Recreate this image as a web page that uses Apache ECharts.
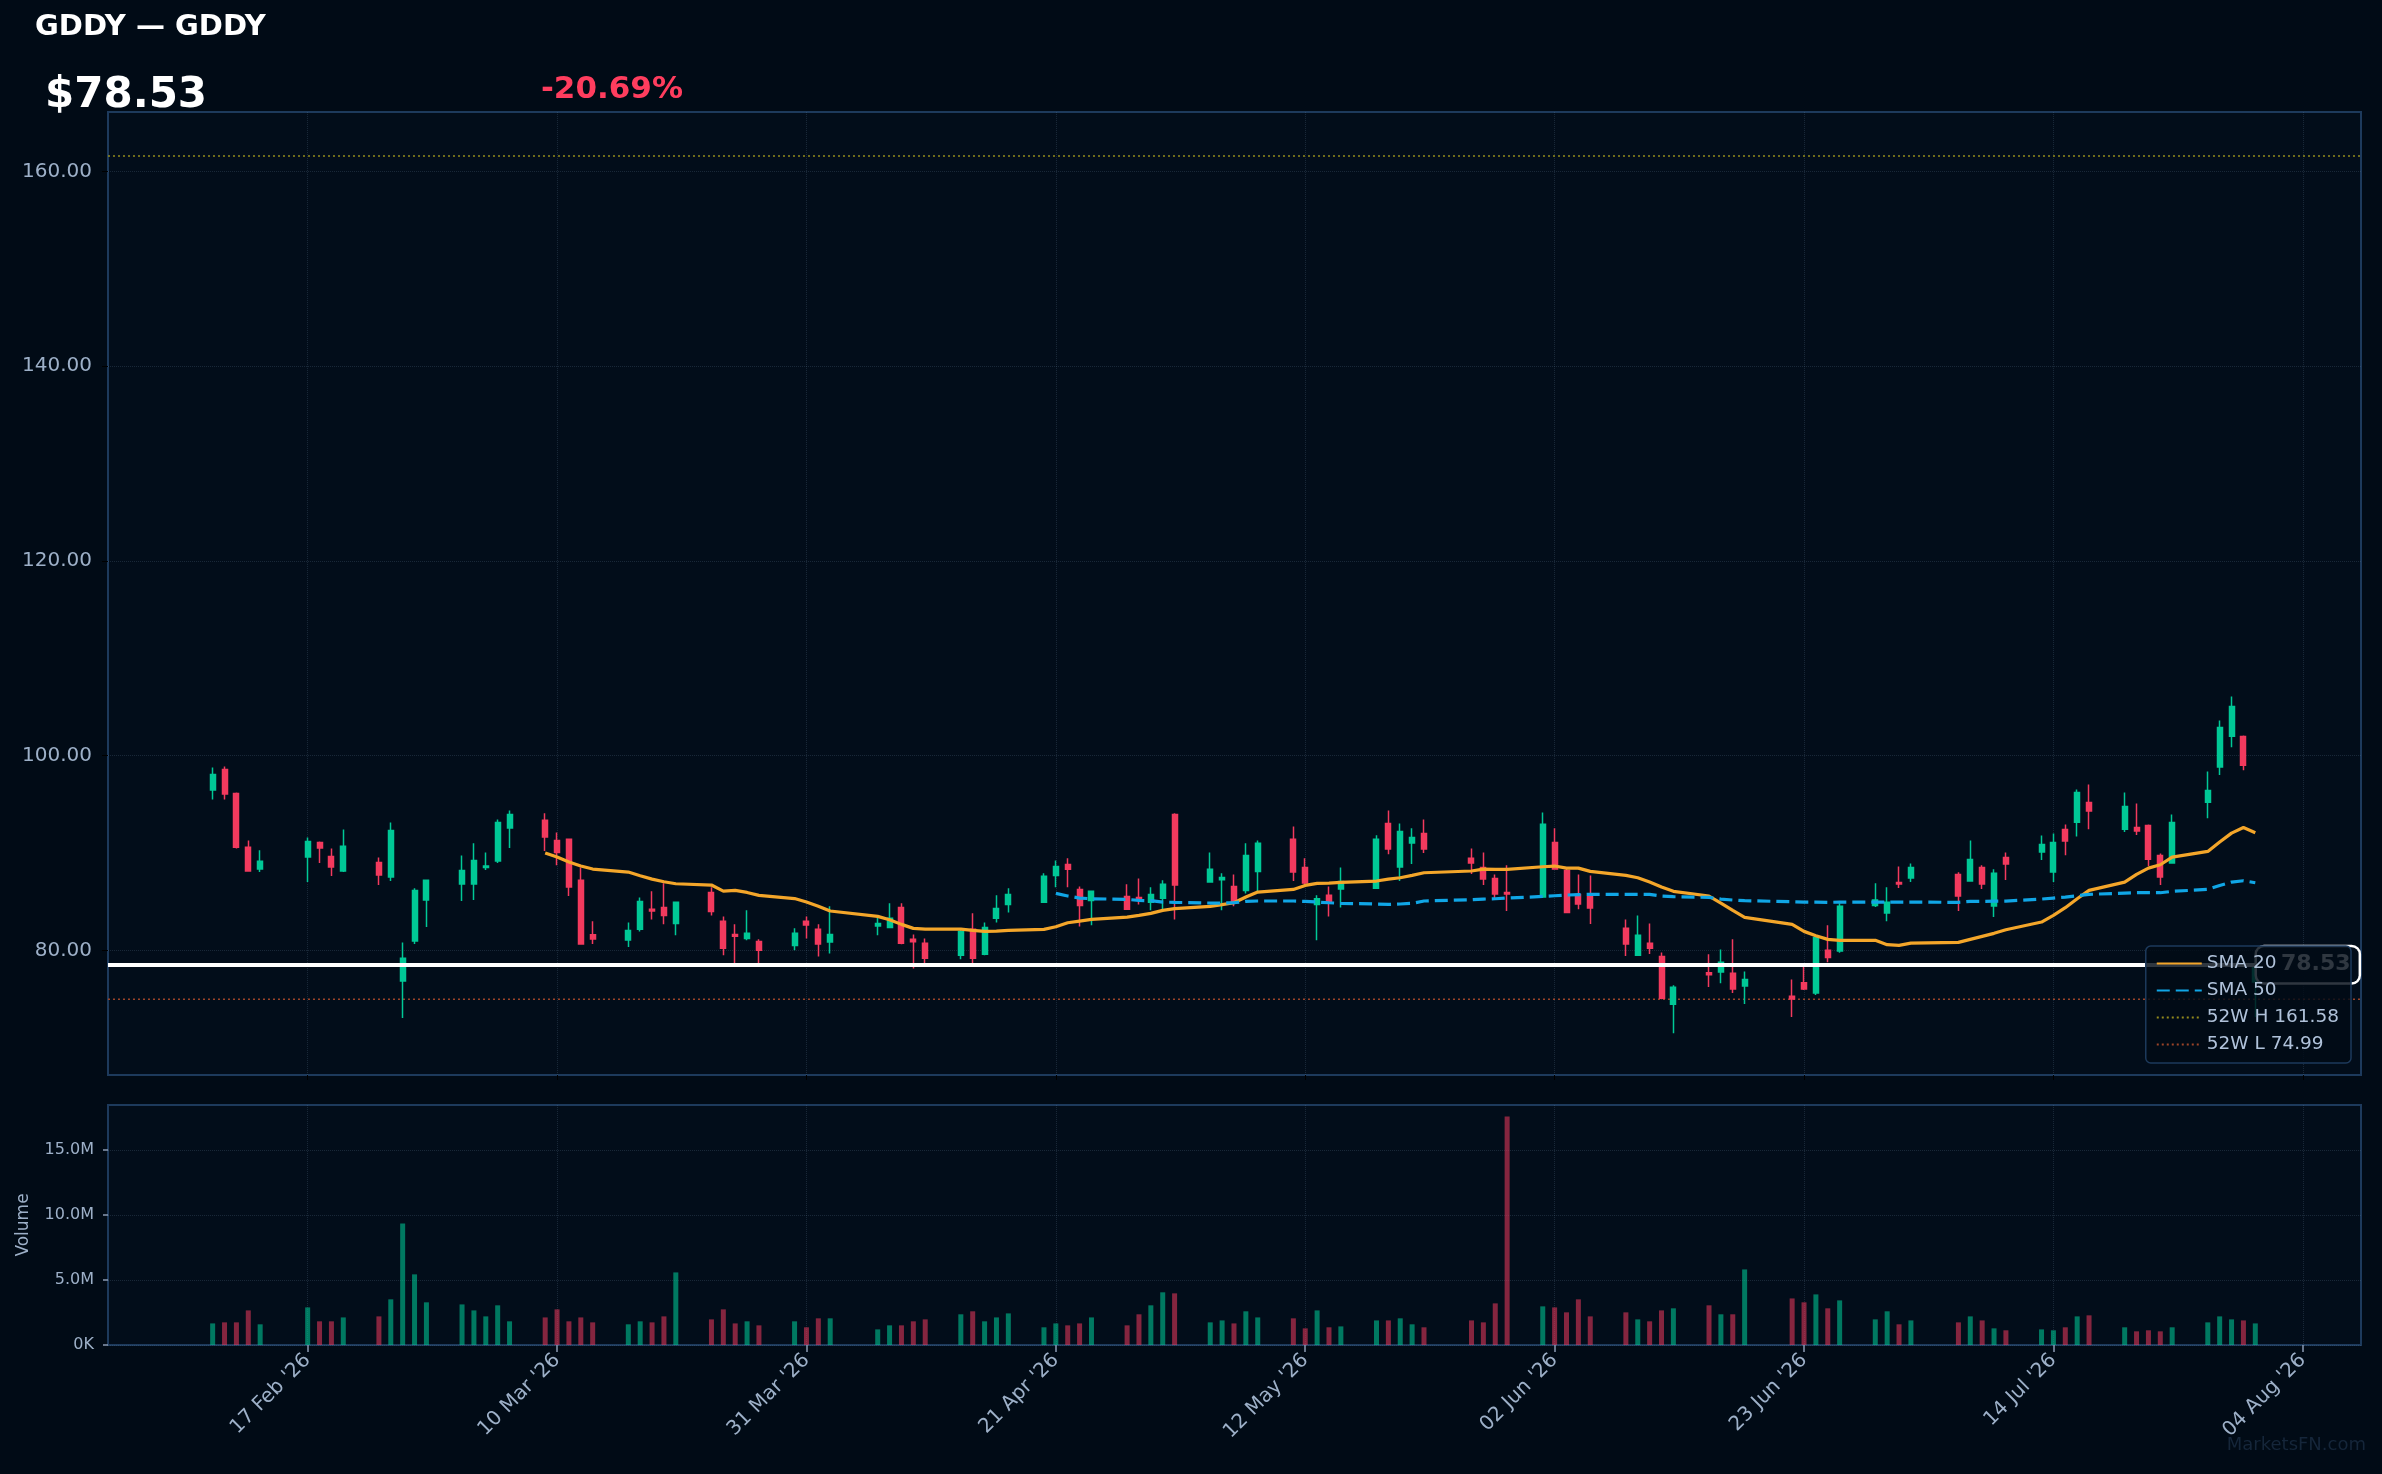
<!DOCTYPE html>
<html><head><meta charset="utf-8">
<script src="https://cdn.jsdelivr.net/npm/echarts@6/dist/echarts.min.js"></script>
<style>html,body{margin:0;padding:0;background:#010b16;}#chart{width:2382px;height:1474px;}</style>
</head><body><div id="chart"></div>
<script>
const ticker = 'GDDY';
const lastPrice = 78.53;
const changePct = -20.69;
const high52 = 161.58;
const low52 = 74.99;

const dates = [
'2026-02-09','2026-02-10','2026-02-11','2026-02-12','2026-02-13',
'2026-02-17','2026-02-18','2026-02-19','2026-02-20',
'2026-02-23','2026-02-24','2026-02-25','2026-02-26','2026-02-27',
'2026-03-02','2026-03-03','2026-03-04','2026-03-05','2026-03-06',
'2026-03-09','2026-03-10','2026-03-11','2026-03-12','2026-03-13',
'2026-03-16','2026-03-17','2026-03-18','2026-03-19','2026-03-20',
'2026-03-23','2026-03-24','2026-03-25','2026-03-26','2026-03-27',
'2026-03-30','2026-03-31','2026-04-01','2026-04-02',
'2026-04-06','2026-04-07','2026-04-08','2026-04-09','2026-04-10',
'2026-04-13','2026-04-14','2026-04-15','2026-04-16','2026-04-17',
'2026-04-20','2026-04-21','2026-04-22','2026-04-23','2026-04-24',
'2026-04-27','2026-04-28','2026-04-29','2026-04-30','2026-05-01',
'2026-05-04','2026-05-05','2026-05-06','2026-05-07','2026-05-08',
'2026-05-11','2026-05-12','2026-05-13','2026-05-14','2026-05-15',
'2026-05-18','2026-05-19','2026-05-20','2026-05-21','2026-05-22',
'2026-05-26','2026-05-27','2026-05-28','2026-05-29',
'2026-06-01','2026-06-02','2026-06-03','2026-06-04','2026-06-05',
'2026-06-08','2026-06-09','2026-06-10','2026-06-11','2026-06-12',
'2026-06-15','2026-06-16','2026-06-17','2026-06-18',
'2026-06-22','2026-06-23','2026-06-24','2026-06-25','2026-06-26',
'2026-06-29','2026-06-30','2026-07-01','2026-07-02',
'2026-07-06','2026-07-07','2026-07-08','2026-07-09','2026-07-10',
'2026-07-13','2026-07-14','2026-07-15','2026-07-16','2026-07-17',
'2026-07-20','2026-07-21','2026-07-22','2026-07-23','2026-07-24',
'2026-07-27','2026-07-28','2026-07-29','2026-07-30','2026-07-31'];

const openP = [
96.46,98.58,96.12,90.58,88.35,
89.58,91.09,89.65,88.15,
89.03,87.53,76.85,80.96,85.17,
86.81,86.81,88.52,89.17,92.56,
93.35,91.29,91.40,87.19,81.61,
81.06,82.16,84.21,84.41,82.77,
85.95,82.98,81.64,81.23,80.92,
80.51,82.98,82.16,80.86,
82.50,82.36,84.41,81.13,80.72,
79.49,82.16,79.59,83.29,84.72,
84.93,87.70,88.83,86.26,85.13,
85.54,85.44,84.93,85.34,93.96,
87.02,87.26,86.57,86.16,88.11,
91.40,88.52,84.72,85.65,86.30,
86.37,93.04,88.56,91.02,92.01,
89.45,88.52,87.39,85.95,
85.48,91.09,88.21,85.75,85.54,
82.26,79.49,80.72,79.38,74.46,
77.71,77.78,77.64,76.34,
75.28,76.68,75.62,80.00,79.93,
84.62,83.83,86.98,87.43,
87.80,87.12,88.52,84.55,89.54,
90.09,88.04,92.42,93.17,95.19,
92.45,92.62,92.83,89.75,88.96,
95.22,98.82,102.00,101.96,76.75];

const highP = [
98.79,98.89,96.22,91.29,90.27,
91.60,91.19,90.47,92.42,
89.55,93.14,80.82,86.37,87.29,
89.75,90.99,90.06,93.45,94.37,
94.07,92.11,91.50,88.52,82.98,
82.87,85.44,86.06,86.88,85.03,
86.47,83.49,82.67,84.11,81.13,
82.26,83.49,82.67,84.52,
83.39,84.83,84.83,81.64,81.23,
82.16,83.80,82.87,85.65,86.37,
87.91,89.24,89.45,86.57,86.16,
86.78,87.39,86.47,87.19,94.07,
90.06,87.91,87.80,90.99,91.29,
92.73,89.45,85.65,86.57,88.52,
91.81,94.37,93.04,92.53,93.45,
90.47,90.06,87.80,88.73,
94.17,92.53,88.52,87.80,87.70,
83.18,83.59,82.77,79.79,76.41,
79.59,80.10,81.13,77.84,
77.02,78.36,81.54,82.57,84.83,
86.88,86.47,88.62,88.93,
88.01,91.29,88.73,88.32,90.06,
91.80,92.01,92.93,96.52,97.04,
96.22,95.09,92.93,89.96,93.96,
98.37,103.61,106.07,102.07,79.10];

const lowP = [
95.50,95.50,90.47,88.15,88.04,
87.02,88.97,87.63,88.04,
86.71,87.12,73.05,80.65,82.40,
85.07,85.17,88.25,88.97,90.51,
90.20,88.73,85.58,80.65,80.65,
80.34,81.95,83.18,82.67,81.54,
83.59,79.49,78.46,81.03,78.63,
80.00,81.23,79.38,79.69,
81.54,82.30,80.62,78.15,78.29,
79.08,78.36,79.49,82.87,83.90,
84.93,86.47,86.47,82.46,82.57,
84.21,84.72,84.11,84.21,83.18,
87.02,84.11,84.52,85.85,85.95,
87.12,86.50,81.03,83.49,84.41,
86.37,89.86,87.12,88.86,89.99,
87.84,86.71,85.27,84.04,
85.37,88.35,83.80,84.21,82.70,
79.42,79.42,79.62,74.97,71.48,
76.24,76.61,75.62,74.49,
73.16,75.93,75.41,78.77,79.76,
84.45,82.98,86.40,87.02,
84.04,87.12,86.30,83.42,87.22,
89.27,87.01,89.78,91.70,92.45,
92.15,91.84,88.66,86.71,88.96,
93.58,98.00,100.87,98.51,73.16];

const closeP = [
98.07,96.05,90.58,88.15,89.14,
91.19,90.51,88.56,90.68,
87.73,92.32,79.18,86.16,87.19,
88.21,89.24,88.66,93.14,93.96,
91.64,90.06,86.50,80.65,81.16,
82.05,85.03,84.04,83.59,84.93,
84.00,80.21,81.44,81.75,80.00,
81.75,82.60,80.65,81.64,
82.77,83.29,80.72,80.89,79.18,
81.95,79.18,82.36,84.31,85.75,
87.60,88.62,88.32,84.62,86.06,
84.21,85.27,85.75,86.78,86.71,
88.32,87.49,84.93,89.75,90.99,
88.04,86.91,85.30,84.86,87.08,
91.40,90.40,92.22,91.60,90.40,
88.97,87.32,85.78,85.78,
92.94,88.35,83.90,84.76,84.35,
80.65,81.54,80.21,75.07,76.20,
77.50,78.77,76.03,77.02,
75.00,76.03,81.33,79.28,84.52,
85.17,84.93,86.81,88.52,
85.58,89.34,86.81,87.91,88.86,
90.88,91.08,91.22,96.22,94.30,
94.78,92.25,89.37,87.53,93.14,
96.42,102.89,105.04,99.02,78.53];

const volumeM = [
1.66,1.74,1.74,2.66,1.59,
2.89,1.82,1.82,2.12,
2.20,3.51,9.34,5.43,3.28,
3.12,2.66,2.20,3.05,1.82,
2.12,2.74,1.82,2.12,1.74,
1.59,1.82,1.74,2.20,5.58,
1.97,2.74,1.66,1.82,1.51,
1.82,1.36,2.05,2.05,
1.20,1.51,1.51,1.82,1.97,
2.36,2.59,1.82,2.12,2.43,
1.36,1.66,1.51,1.66,2.12,
1.51,2.36,3.05,4.05,3.97,
1.74,1.89,1.66,2.59,2.12,
2.05,1.28,2.66,1.36,1.43,
1.89,1.89,2.05,1.59,1.36,
1.89,1.74,3.20,17.56,
2.97,2.89,2.51,3.51,2.20,
2.51,1.97,1.82,2.66,2.82,
3.05,2.36,2.36,5.81,
3.58,3.28,3.89,2.82,3.43,
1.97,2.59,1.59,1.89,
1.74,2.20,1.89,1.28,1.13,
1.20,1.13,1.36,2.20,2.28,
1.36,1.05,1.13,1.05,1.36,
1.74,2.20,1.97,1.89,1.66];

const sma20 = [
null,null,null,null,null,
null,null,null,null,
null,null,null,null,null,
null,null,null,null,null,
90.00,89.58,89.07,88.66,88.35,
88.04,87.67,87.32,87.05,86.84,
86.71,86.09,86.16,85.95,85.65,
85.32,84.96,84.52,84.04,
83.49,83.15,82.67,82.26,82.19,
82.19,82.05,81.95,81.98,82.05,
82.16,82.43,82.84,83.01,83.18,
83.42,83.59,83.80,84.11,84.28,
84.52,84.69,84.89,85.48,85.99,
86.26,86.67,86.88,86.91,86.98,
87.12,87.32,87.46,87.70,87.97,
88.15,88.35,88.32,88.32,
88.59,88.66,88.45,88.45,88.11,
87.70,87.46,87.02,86.50,86.06,
85.58,84.86,84.11,83.39,
82.67,81.95,81.51,81.13,81.03,
81.03,80.58,80.51,80.75,
80.82,81.13,81.44,81.75,82.12,
82.91,83.59,84.38,85.30,86.16,
87.01,87.80,88.45,88.79,89.58,
90.16,91.12,92.04,92.62,92.08];

const sma50 = [
null,null,null,null,null,
null,null,null,null,
null,null,null,null,null,
null,null,null,null,null,
null,null,null,null,null,
null,null,null,null,null,
null,null,null,null,null,
null,null,null,null,
null,null,null,null,null,
null,null,null,null,null,
null,85.85,85.58,85.37,85.30,
85.24,85.13,85.10,84.96,84.93,
84.86,84.86,84.89,85.03,85.07,
85.07,85.03,84.96,84.89,84.83,
84.76,84.72,84.76,84.83,85.07,
85.20,85.27,85.30,85.37,
85.54,85.61,85.68,85.72,85.75,
85.75,85.75,85.75,85.58,85.51,
85.44,85.27,85.17,85.10,
85.00,84.96,84.96,84.93,84.96,
84.96,84.96,84.96,84.96,
84.93,85.03,85.03,85.05,85.06,
85.27,85.37,85.47,85.61,85.75,
85.88,85.92,85.92,85.92,86.06,
86.26,86.67,87.01,87.15,86.94];

const priceTicks = [80, 100, 120, 140, 160];
const volumeTicksM = [0, 5, 10, 15];
const dateTicks = ['2026-02-17','2026-03-10','2026-03-31','2026-04-21','2026-05-12','2026-06-02','2026-06-23','2026-07-14','2026-08-04'];
const monthNames = ['Jan','Feb','Mar','Apr','May','Jun','Jul','Aug','Sep','Oct','Nov','Dec'];

function ts(s) { const p = s.split('-').map(Number); return new Date(p[0], p[1] - 1, p[2]).getTime(); }
const xMin = new Date(2026, 0, 31, 4, 30).getTime();
const xMax = new Date(2026, 7, 8, 21, 36).getTime();
function fmtDate(v) {
  const d = new Date(v);
  const dd = String(d.getDate()).padStart(2, '0');
  return dd + ' ' + monthNames[d.getMonth()] + " '" + String(d.getFullYear()).slice(2);
}

const UP = '#00c896', DOWN = '#f23a5e';
const UPV = 'rgba(0,200,150,0.58)', DOWNV = 'rgba(242,58,94,0.55)';
const LBL = '#9db0c8';
const GRIDC = 'rgba(110,135,165,0.22)';
const FONT = 'DejaVu Sans';
const dateTickTs = dateTicks.map(ts);

const candleData = dates.map((d, i) => [ts(d), openP[i], closeP[i], lowP[i], highP[i]]);
const sma20Data = dates.map((d, i) => [ts(d), sma20[i]]).filter(p => p[1] != null);
const sma50Data = dates.map((d, i) => [ts(d), sma50[i]]).filter(p => p[1] != null);
const volData = dates.map((d, i) => ({
  value: [ts(d), volumeM[i] * 1e6],
  itemStyle: { color: closeP[i] >= openP[i] ? UPV : DOWNV }
}));

const chart = echarts.init(document.getElementById('chart'), null, { renderer: 'canvas' });
const option = {
  animation: false,
  backgroundColor: '#010b16',
  textStyle: { fontFamily: FONT },
  title: [
    { text: ticker + ' — ' + ticker, left: 35, top: 13, padding: 0,
      textStyle: { color: '#ffffff', fontSize: 29, fontWeight: 'bold', fontFamily: FONT } },
    { text: '$' + lastPrice.toFixed(2), left: 45, top: 75, padding: 0,
      textStyle: { color: '#ffffff', fontSize: 42, fontWeight: 'bold', fontFamily: FONT } },
    { text: (changePct > 0 ? '+' : '') + changePct.toFixed(2) + '%', left: 541, top: 74, padding: 0,
      textStyle: { color: '#ff3d5e', fontSize: 31, fontWeight: 'bold', fontFamily: FONT } }
  ],
  legend: {
    orient: 'vertical', right: 31, top: 946,
    data: ['SMA 20', 'SMA 50', '52W H ' + high52.toFixed(2), '52W L ' + low52.toFixed(2)],
    itemWidth: 45, itemHeight: 14, itemGap: 8,
    padding: [8, 12, 9, 10],
    itemStyle: { opacity: 0 },
    backgroundColor: 'rgba(1,11,22,0.82)',
    borderColor: '#1d3a5c', borderWidth: 1.5, borderRadius: 5,
    textStyle: { color: '#b0c2da', fontSize: 18.5, fontFamily: FONT },
    z: 20
  },
  grid: [
    { left: 108, right: 21, top: 112, height: 963, show: true, backgroundColor: '#020d1a', borderColor: '#1d3a5c', borderWidth: 2 },
    { left: 108, right: 21, top: 1105, height: 240, show: true, backgroundColor: '#020d1a', borderColor: '#1d3a5c', borderWidth: 2 }
  ],
  xAxis: [
    { type: 'value', gridIndex: 0, min: xMin, max: xMax,
      axisLine: { show: false },
      axisTick: { show: true, customValues: dateTickTs, length: 5, lineStyle: { color: '#000' } },
      axisLabel: { show: false, customValues: dateTickTs },
      splitLine: { show: true, lineStyle: { color: GRIDC, type: 'dotted', width: 1 } } },
    { type: 'value', gridIndex: 1, min: xMin, max: xMax,
      axisLine: { show: false },
      axisTick: { show: true, customValues: dateTickTs, length: 7, lineStyle: { color: '#8a9bb3', width: 1.5 } },
      axisLabel: { show: true, customValues: dateTickTs, rotate: 45, margin: 12, color: LBL, fontSize: 20, fontFamily: FONT,
        formatter: v => fmtDate(v) },
      splitLine: { show: true, lineStyle: { color: GRIDC, type: 'dotted', width: 1 } } }
  ],
  yAxis: [
    { type: 'value', gridIndex: 0, min: 67.2, max: 166.1,
      axisLine: { show: false },
      axisTick: { show: true, customValues: priceTicks, length: 6, lineStyle: { color: '#000' } },
      axisLabel: { customValues: priceTicks, color: LBL, fontSize: 20, margin: 16, fontFamily: FONT,
        formatter: v => v.toFixed(2) },
      splitLine: { show: true, lineStyle: { color: GRIDC, type: 'dotted', width: 1 } } },
    { type: 'value', gridIndex: 1, min: 0, max: 18.45e6,
      name: 'Volume', nameLocation: 'middle', nameGap: 76, nameRotate: 90,
      nameTextStyle: { color: LBL, fontSize: 17, fontFamily: FONT },
      axisLine: { show: false },
      axisTick: { show: true, customValues: volumeTicksM.map(v => v * 1e6), length: 5, lineStyle: { color: '#8a9bb3', width: 1.5 } },
      axisLabel: { customValues: volumeTicksM.map(v => v * 1e6), color: LBL, fontSize: 16, margin: 14, fontFamily: FONT,
        formatter: v => v === 0 ? '0K' : (v / 1e6).toFixed(1) + 'M' },
      splitLine: { show: true, lineStyle: { color: GRIDC, type: 'dotted', width: 1 } } }
  ],
  series: [
    { name: 'Price', type: 'candlestick', xAxisIndex: 0, yAxisIndex: 0,
      data: candleData, encode: { x: 0, y: [1, 2, 3, 4] },
      barWidth: 5.5,
      itemStyle: { color: UP, color0: DOWN, borderColor: UP, borderColor0: DOWN, borderWidth: 1.5 },
      markLine: {
        silent: true, symbol: ['none', 'none'], animation: false,
        data: [{ yAxis: lastPrice }],
        lineStyle: { color: '#ffffff', width: 4, type: 'solid' },
        label: { show: true, position: 'end', distance: -104,
          formatter: () => lastPrice.toFixed(2),
          color: '#ffffff', fontSize: 22, fontWeight: 'bold', fontFamily: FONT,
          backgroundColor: '#020d1a', borderColor: '#ffffff', borderWidth: 2.5, borderRadius: 7,
          padding: [7, 8, 6, 24] }
      },
      z: 3 },
    { name: 'SMA 20', type: 'line', xAxisIndex: 0, yAxisIndex: 0, data: sma20Data,
      symbol: 'none', showSymbol: false,
      lineStyle: { color: '#f4a62a', width: 3.2 }, itemStyle: { color: '#f4a62a' }, z: 4 },
    { name: 'SMA 50', type: 'line', xAxisIndex: 0, yAxisIndex: 0, data: sma50Data,
      symbol: 'none', showSymbol: false,
      lineStyle: { color: '#10a6e6', width: 3.2, type: [13, 6] }, itemStyle: { color: '#10a6e6' }, z: 4 },
    { name: '52W H ' + high52.toFixed(2), type: 'line', xAxisIndex: 0, yAxisIndex: 0,
      data: [[xMin, high52], [xMax, high52]], symbol: 'none', showSymbol: false,
      lineStyle: { color: '#938a1c', width: 1.5, type: [2, 3] }, itemStyle: { color: '#938a1c' }, z: 2 },
    { name: '52W L ' + low52.toFixed(2), type: 'line', xAxisIndex: 0, yAxisIndex: 0,
      data: [[xMin, low52], [xMax, low52]], symbol: 'none', showSymbol: false,
      lineStyle: { color: '#9c4428', width: 1.5, type: [2, 3] }, itemStyle: { color: '#9c4428' }, z: 2 },
    { name: 'Volume', type: 'bar', xAxisIndex: 1, yAxisIndex: 1, data: volData, barWidth: 5 }
  ],
  graphic: [
    { type: 'text', right: 16, top: 1436, z: 10,
      style: { text: 'MarketsFN.com', fill: '#15263a', font: '18px "DejaVu Sans"' } }
  ]
};
chart.setOption(option);
</script>
</body></html>
